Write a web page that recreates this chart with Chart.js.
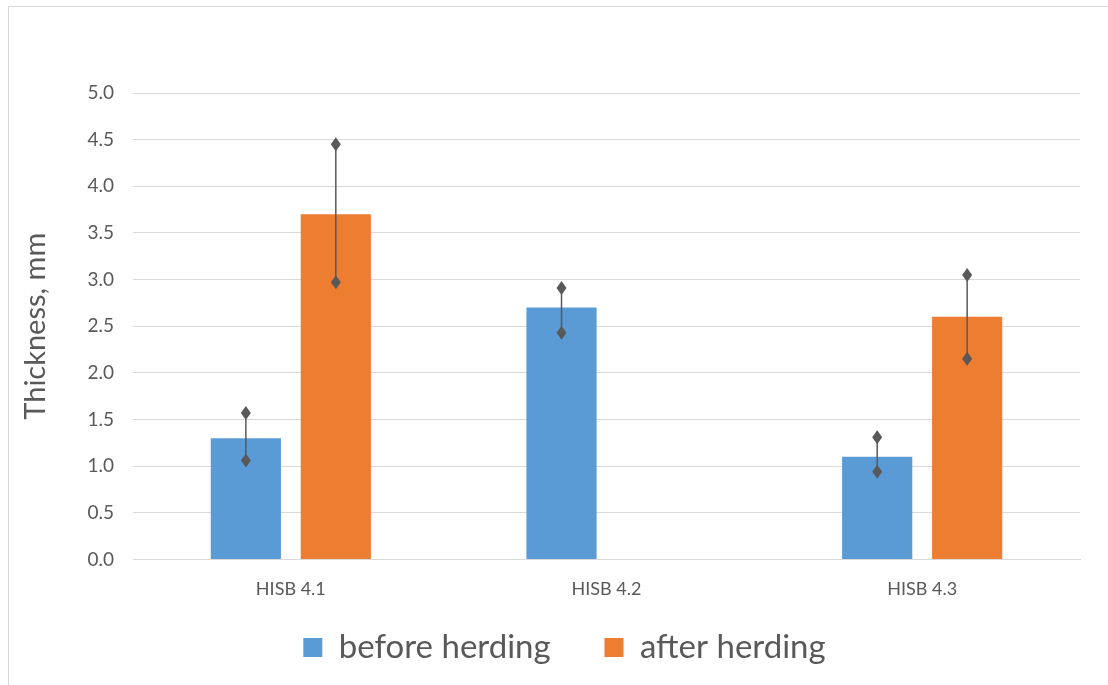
<!DOCTYPE html>
<html>
<head>
<meta charset="utf-8">
<script src="https://cdn.jsdelivr.net/npm/chart.js@4"></script>
<style>
  html, body { margin: 0; padding: 0; background: #fff; }
  #wrap { width: 1108px; height: 685px; position: relative; }
</style>
</head>
<body>
<div id="wrap"><canvas id="myChart" width="1108" height="685"></canvas></div>
<script>
// Chart data
const categories = ['HISB 4.1', 'HISB 4.2', 'HISB 4.3'];
const beforeValues = [1.3, 2.7, 1.1];
const afterValues = [3.7, null, 2.6];
// error range markers (diamonds), high and low
const beforeHigh = [1.57, 2.91, 1.31];
const beforeLow = [1.06, 2.43, 0.94];
const afterHigh = [4.45, null, 3.05];
const afterLow = [2.97, null, 2.15];
const yTicks = [0, 0.5, 1, 1.5, 2, 2.5, 3, 3.5, 4, 4.5, 5];

const ranges = [
    { high: beforeHigh, low: beforeLow },
    { high: afterHigh, low: afterLow }
];

// Outer frame like the spreadsheet chart border
const framePlugin = {
    id: 'frame',
    beforeDraw(chart) {
        const c = chart.ctx;
        c.save();
        c.fillStyle = '#fff';
        c.fillRect(0, 0, chart.width, chart.height);
        c.strokeStyle = '#d9d9d9';
        c.lineWidth = 1;
        c.strokeRect(8.5, 6.5, chart.width + 10, chart.height + 10);
        c.restore();
    }
};

// Draw high/low diamonds joined by a thin line over every bar
const rangePlugin = {
    id: 'ranges',
    afterDatasetsDraw(chart) {
        const c = chart.ctx;
        const y = chart.scales.y;
        c.save();
        ranges.forEach((r, i) => {
            const meta = chart.getDatasetMeta(i);
            meta.data.forEach((bar, j) => {
                if (r.high[j] == null) return;
                const x = bar.x;
                const yh = y.getPixelForValue(r.high[j]);
                const yl = y.getPixelForValue(r.low[j]);
                c.strokeStyle = '#595959';
                c.lineWidth = 1.5;
                c.beginPath();
                c.moveTo(x, yh);
                c.lineTo(x, yl);
                c.stroke();
                c.fillStyle = '#595959';
                [yh, yl].forEach(py => {
                    c.beginPath();
                    c.moveTo(x, py - 7);
                    c.lineTo(x + 5, py);
                    c.lineTo(x, py + 7);
                    c.lineTo(x - 5, py);
                    c.closePath();
                    c.fill();
                });
            });
        });
        c.restore();
    }
};

const ctx = document.getElementById('myChart').getContext('2d');
const myChart = new Chart(ctx, {
    type: 'bar',
    data: {
        labels: categories,
        datasets: [{
            label: 'before herding',
            data: beforeValues,
            backgroundColor: '#5b9bd5',
            categoryPercentage: 0.57,
            barPercentage: 0.78
        }, {
            label: 'after herding',
            data: afterValues,
            backgroundColor: '#ed7d31',
            categoryPercentage: 0.57,
            barPercentage: 0.78
        }]
    },
    options: {
        responsive: false,
        animation: false,
        layout: { padding: { top: 93, right: 28, bottom: 11, left: 49 } },
        plugins: {
            tooltip: { enabled: false },
            legend: {
                position: 'bottom',
                labels: {
                    font: { family: 'Lato', size: 33 },
                    color: '#595959',
                    boxWidth: 19,
                    boxHeight: 19,
                    padding: 20,
                    // widen the gap between the two entries
                    generateLabels(chart) {
                        const items = Chart.defaults.plugins.legend.labels.generateLabels(chart);
                        items.forEach((it, k) => { if (k < items.length - 1) it.text += '    '; });
                        return items;
                    }
                }
            }
        },
        scales: {
            x: {
                grid: { display: false },
                border: { display: true, color: '#d9d9d9' },
                ticks: { font: { family: 'Lato', size: 18 }, color: '#595959', padding: 11 }
            },
            y: {
                min: 0,
                max: 5,
                afterFit(scale) { scale.width = 84; },
                afterBuildTicks(scale) { scale.ticks = yTicks.map(v => ({ value: v })); },
                grid: { color: '#d9d9d9', drawTicks: false },
                border: { display: false },
                ticks: {
                    font: { family: 'Lato', size: 19 },
                    color: '#595959',
                    padding: 19,
                    callback: v => v.toFixed(1)
                },
                title: {
                    display: true,
                    text: 'Thickness, mm',
                    font: { family: 'Lato', size: 29 },
                    color: '#595959',
                    padding: { top: -31, bottom: 0 }
                }
            }
        }
    },
    plugins: [framePlugin, rangePlugin]
});
</script>
</body>
</html>
